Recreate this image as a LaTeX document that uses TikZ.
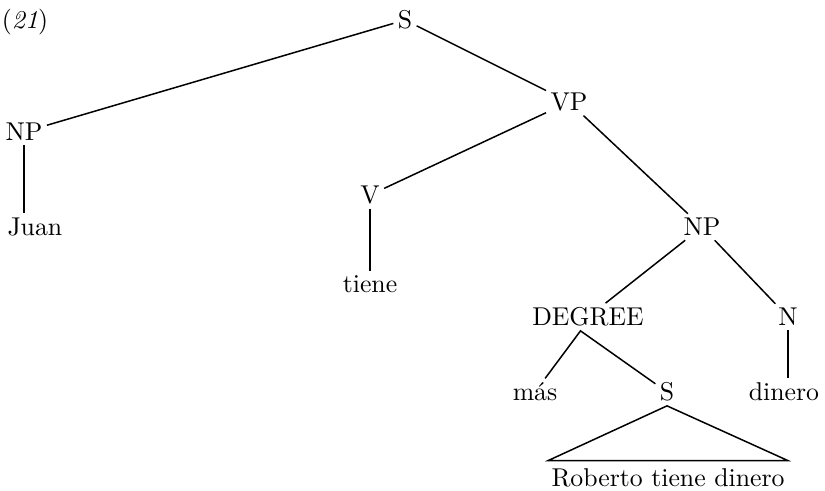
\documentclass[tikz,border=0pt]{standalone}
\usepackage{fontspec}
\begin{document}
\begin{tikzpicture}[x=0.4pt,y=-0.4pt,line width=0.6pt,
            font=\fontsize{10.3}{12.4}\selectfont,
            cat/.style = {inner sep=1.5pt,
                }]

        \useasboundingbox (0,0) rectangle (825,491);

        % Example number
        \node (num) at (25,22) {(\textit{21})};

        % Sentence, subject and verb phrase
        \node[cat] (S) at (405,20) {S};
        \node[cat] (NP) at (24,132) {NP};
        \node[cat,anchor=west] (Juan) at (3,227) {Juan};
        \node[cat] (VP) at (569,102) {VP};

        % Verb
        \node[cat] (V) at (370,195) {V};
        \node[cat] (tiene) at (370,284) {tiene};

        % Object noun phrase
        \node[cat] (NPo) at (702,227) {NP};
        \node[cat] (DEG) at (588,317) {DEGREE};
        \node[cat] (N) at (788,317) {N};
        \node[cat] (mas) at (535,392) {m\'as};
        \node[cat] (Sc) at (667,392) {S};
        \node[cat] (dinero) at (784,392) {dinero};

        % Embedded clause
        \node[cat,inner sep=1pt] (RTD) at (668,478) {Roberto tiene dinero};

        % Branches
        \draw (S) -- (NP);
        \draw (S) -- (VP);
        \draw (NP.south) -- (NP.south |- Juan.north);
        \draw (VP) -- (V);
        \draw (VP) -- (NPo);
        \draw (V) -- (tiene);
        \draw (NPo) -- (DEG);
        \draw (NPo) -- (N);
        \draw (mas) -- ([xshift=-3pt]DEG.south) -- (Sc);
        \draw (N.south) -- (N.south |- dinero.north);

        % Triangle over the clause
        \draw (Sc.south) -- ([yshift=2pt]RTD.north west)
            -- ([yshift=2pt]RTD.north east) -- cycle;

        \end{tikzpicture}
\end{document}
